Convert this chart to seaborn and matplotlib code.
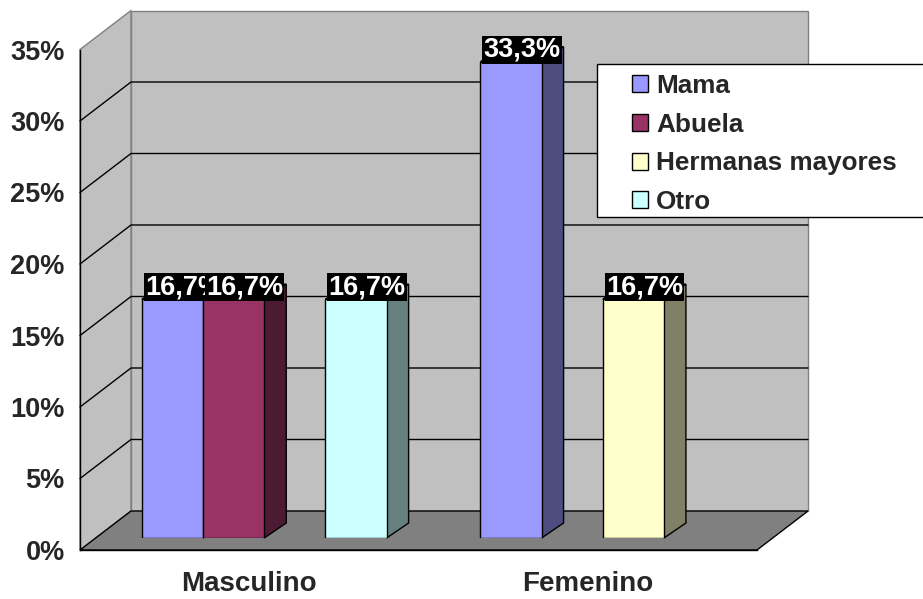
import numpy as np
import pandas as pd
import seaborn as sns
import matplotlib
matplotlib.use("Agg")
import matplotlib.pyplot as plt
import matplotlib.colors as mcolors
from matplotlib.patches import Polygon, Rectangle, Patch
from matplotlib.ticker import FixedLocator, FuncFormatter

# ---- data -------------------------------------------------------------
sexo = ["Masculino", "Femenino"]
personas = ["Mama", "Abuela", "Hermanas mayores", "Otro"]
masculino = [16.7, 16.7, 0.0, 16.7]
femenino = [33.3, 0.0, 16.7, 0.0]
colores = ["#9999FF", "#993366", "#FFFFCC", "#CCFFFF"]
y_ticks = [0, 5, 10, 15, 20, 25, 30, 35]

df = pd.DataFrame({
    "Sexo": np.repeat(sexo, len(personas)),
    "Persona": personas * len(sexo),
    "Porcentaje": masculino + femenino,
})

# ---- figure / geometry (pixels) ---------------------------------------
W, H = 923, 599
sns.set_style("white")
plt.rcParams["font.family"] = ["Liberation Sans", "DejaVu Sans"]
plt.rcParams["font.weight"] = "bold"

fig = plt.figure(figsize=(W / 100, H / 100), dpi=100)

PX_PER_PCT = 14.3
YMAX = 35


def rect(left, right, bottom_px):
    top_px = bottom_px - YMAX * PX_PER_PCT
    return [left / W, 1 - bottom_px / H, (right - left) / W, (bottom_px - top_px) / H]


# front plane carries the axes; bar plane sits a bit deeper in the box
ax_front = fig.add_axes(rect(80, 757, 550))
ax_bar = fig.add_axes(rect(95, 772, 538))
ax_bar.set_zorder(ax_front.get_zorder() + 1)

px_per_cat = (757 - 80) / 2.0
wall_dx, wall_dy = 51 / px_per_cat, 39 / PX_PER_PCT      # box depth
bar_dx, bar_dy = 22 / px_per_cat, 15 / PX_PER_PCT        # column depth

# ---- walls, floor and gridlines ---------------------------------------
ax_front.set_xlim(-0.5, 1.5)
ax_front.set_ylim(0, YMAX)
ax_front.patch.set_visible(False)

wall_col, wall_edge, floor_col = "#C0C0C0", "#808080", "#808080"
ax_front.add_patch(Rectangle((-0.5 + wall_dx, wall_dy), 2, YMAX, facecolor=wall_col,
                             edgecolor=wall_edge, lw=1, clip_on=False, zorder=0.1))
ax_front.add_patch(Polygon([(-0.5, 0), (-0.5, YMAX), (-0.5 + wall_dx, YMAX + wall_dy),
                            (-0.5 + wall_dx, wall_dy)], closed=True, facecolor=wall_col,
                           edgecolor=wall_edge, lw=1, clip_on=False, zorder=0.1))
for t in y_ticks[1:-1]:
    ax_front.plot([-0.5, -0.5 + wall_dx, 1.5 + wall_dx], [t, t + wall_dy, t + wall_dy],
                  color="black", lw=1, clip_on=False, zorder=0.2)
ax_front.add_patch(Polygon([(-0.5, 0), (1.5, 0), (1.5 + wall_dx, wall_dy),
                            (-0.5 + wall_dx, wall_dy)], closed=True, facecolor=floor_col,
                           edgecolor="black", lw=1, clip_on=False, zorder=0.3))

for s in ["top", "right"]:
    ax_front.spines[s].set_visible(False)
for s in ["left", "bottom"]:
    ax_front.spines[s].set_color("black")
    ax_front.spines[s].set_linewidth(1)

ax_front.yaxis.set_major_locator(FixedLocator(y_ticks))
ax_front.yaxis.set_major_formatter(FuncFormatter(lambda v, _: f"{v:.0f}%"))
ax_front.tick_params(axis="y", direction="out", length=5, width=1, color="black",
                     labelsize=19.5, pad=6)
ax_front.set_xticks([0, 1])
ax_front.set_xticklabels(sexo)
ax_front.set_xticks([-0.5, 0.5, 1.5], minor=True)
ax_front.tick_params(axis="x", which="major", length=0, labelsize=20, pad=15)
ax_front.tick_params(axis="x", which="minor", direction="out", length=9, width=1,
                     color="black")
for lbl in ax_front.get_xticklabels() + ax_front.get_yticklabels():
    lbl.set_fontweight("bold")
ax_front.set_xlabel("")
ax_front.set_ylabel("")

# ---- columns -----------------------------------------------------------
sns.barplot(data=df, x="Sexo", y="Porcentaje", hue="Persona", order=sexo,
            hue_order=personas, palette=colores, saturation=1, width=0.723,
            edgecolor="black", linewidth=1, legend=False, ax=ax_bar)
ax_bar.set_xlim(-0.5, 1.5)
ax_bar.set_ylim(0, YMAX)
ax_bar.set_axis_off()

for bar in list(ax_bar.patches):
    h = bar.get_height()
    if h <= 0:
        bar.set_visible(False)
        continue
    bar.set_zorder(3)
    x0 = bar.get_x()
    x1 = x0 + bar.get_width()
    rgb = np.array(mcolors.to_rgb(bar.get_facecolor()))
    side = Polygon([(x1, 0), (x1 + bar_dx, bar_dy), (x1 + bar_dx, h + bar_dy), (x1, h)],
                   closed=True, facecolor=rgb * 0.5, edgecolor="black", lw=1,
                   zorder=2, clip_on=False)
    top = Polygon([(x0, h), (x1, h), (x1 + bar_dx, h + bar_dy), (x0 + bar_dx, h + bar_dy)],
                  closed=True, facecolor=rgb, edgecolor="black", lw=1,
                  zorder=2, clip_on=False)
    ax_bar.add_patch(side)
    ax_bar.add_patch(top)
    label = f"{h:.1f}".replace(".", ",") + "%"
    ax_bar.annotate(label, xy=(x0 + (x1 - x0) / 2 + bar_dx / 2, h), xytext=(0, -0.6),
                    textcoords="offset points", ha="center", va="bottom",
                    color="white", fontsize=19.5, fontweight="bold",
                    bbox=dict(boxstyle="square,pad=0.04", facecolor="black",
                              edgecolor="none"),
                    zorder=6, annotation_clip=False)

# ---- legend ------------------------------------------------------------
fig.patches.append(Rectangle((597 / W, 1 - 217 / H), (960 - 597) / W, (217 - 64) / H,
                             transform=fig.transFigure, facecolor="white",
                             edgecolor="black", lw=1, zorder=4))
handles = [Patch(facecolor=c, edgecolor="black", lw=1) for c in colores]
leg = fig.legend(handles, personas, loc="upper left",
                 bbox_to_anchor=(632 / W, 1 - 74 / H), frameon=False,
                 prop={"family": "Liberation Sans", "weight": "bold", "size": 18.8},
                 handlelength=0.62, handleheight=0.62, handletextpad=0.3,
                 labelspacing=0.56, borderpad=0, borderaxespad=0)
leg.set_zorder(5)

fig.savefig("out.png", dpi=100)
